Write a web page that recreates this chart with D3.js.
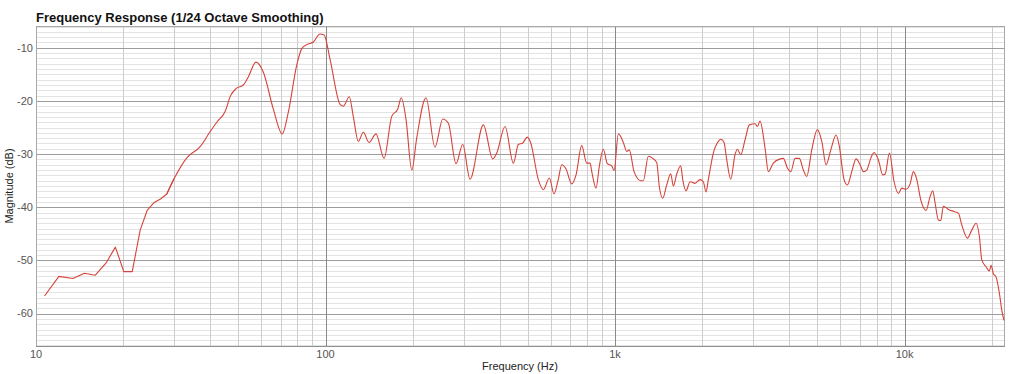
<!DOCTYPE html>
<meta charset="utf-8">
<style>
  body { margin: 0; background: #fff; }
  text { font-family: "Liberation Sans", Arial, Helvetica, sans-serif; }
</style>

<svg width="1021" height="374"></svg>

<script src="https://d3js.org/d3.v7.min.js"></script>
<script>

// frequency response (Hz / dB)
var freq = [10.7, 12.0, 13.4, 14.7, 16.0, 17.5, 18.8, 20.1, 21.5, 22.9, 24.2, 25.6, 27.0, 28.3, 30.0,
  33.3, 36.9, 39.8, 42.1, 45.0, 47.0, 49.3, 52.0, 54.1, 57.5, 61.0, 66.0, 70.9, 74.4, 79.5,
  82.7, 86.1, 90.8, 95.7, 98.9, 103.6, 112.4, 115.2, 120.8, 124.7, 129.8, 135.1, 141.3, 149.4, 159.3,
  169.3, 177.6, 182.7, 189.7, 198.6, 206.5, 222.4, 238.8, 254, 265.6, 282.3, 297.8, 315.6, 350.9, 378,
  390.3, 417, 445.5, 463.4, 479.9, 497.9, 511.5, 543.4, 565.4, 593.1, 615.5, 637, 654.5, 677.2, 708.6,
  733.3, 767, 798.5, 819.7, 830.9, 860, 882.5, 911, 940.5, 974, 992, 1027, 1068, 1098, 1120,
  1163, 1227, 1252, 1303, 1350, 1393, 1422, 1461, 1508, 1557, 1590, 1634, 1686, 1713, 1759,
  1816, 1889, 1966, 2018, 2062, 2100, 2185, 2274, 2318, 2380, 2431, 2510, 2597, 2645, 2718,
  2812, 2910, 3045, 3101, 3168, 3297, 3384, 3522, 3716, 3814, 3938, 4045, 4186, 4331, 4471,
  4594, 4780, 4998, 5176, 5357, 5561, 5800, 5954, 6180, 6345, 6571, 6800, 7020, 7207, 7403,
  7642, 7845, 8121, 8410, 8565, 8864, 9199, 9520, 9779, 10120, 10450, 10725, 11020, 11375, 11865,
  12250, 12515, 12748, 13087, 13335, 13614, 14166, 14825, 15340, 15760, 16480, 17066, 17660, 18130, 18480,
  19120, 19630, 19900, 20260, 20700, 21260, 21670, 22050]

var mag = [-56.7, -53.0, -53.4, -52.4, -52.8, -50.4, -47.5, -52.1, -52.1, -44.3, -40.6, -39.1, -38.4, -37.5, -34.6,
  -30.6, -28.6, -25.9, -24.0, -22.0, -19.0, -17.6, -17.0, -15.5, -12.7, -14.6, -21.5, -26.2, -22.1, -13.3,
  -10.2, -9.4, -8.9, -7.4, -7.6, -12.1, -20.7, -21.0, -19.2, -22.9, -27.6, -25.9, -27.8, -26.2, -30.8,
  -22.9, -21.5, -19.4, -23.5, -33.0, -27.0, -19.4, -28.7, -23.4, -24.2, -31.8, -28.2, -34.7, -24.5, -30.9,
  -29.8, -24.8, -31.7, -28.2, -27.9, -26.8, -27.9, -34.8, -36.7, -34.5, -37.5, -34.7, -32.0, -32.8, -35.6,
  -33.9, -28.4, -31.7, -31.7, -33.3, -36.4, -32.3, -29.1, -31.8, -32.2, -33.1, -26.2, -27.8, -29.5, -29.2,
  -33.3, -35.0, -35.0, -30.4, -30.8, -31.6, -36.1, -38.3, -35.8, -33.7, -36.0, -33.7, -32.2, -34.8, -36.9,
  -35.2, -35.5, -34.8, -35.2, -37.1, -34.8, -29.8, -27.6, -27.2, -27.8, -31.1, -34.7, -30.1, -29.1, -30.1,
  -27.3, -24.5, -24.3, -24.8, -23.8, -28.9, -33.3, -31.7, -30.9, -30.8, -32.6, -33.3, -30.8, -30.8, -33.0,
  -34.2, -29.2, -25.4, -27.6, -32.0, -29.2, -26.4, -28.6, -34.8, -35.8, -33.3, -30.9, -32.0, -33.3, -33.0,
  -30.8, -29.7, -31.1, -33.9, -33.8, -29.8, -35.2, -37.4, -36.4, -36.6, -35.6, -33.3, -34.8, -38.6, -40.6,
  -38.0, -36.9, -39.2, -42.4, -42.5, -39.8, -40.4, -40.8, -41.1, -43.3, -45.8, -44.3, -43.0, -45.5, -49.9,
  -51.2, -52.0, -50.9, -52.5, -53.1, -56.2, -59.4, -61.3]

var xTicks = [10, 100, 1000, 10000]
var xTickLabels = ["10", "100", "1k", "10k"]
var yTicks = [-60, -50, -40, -30, -20, -10]

var points = freq.map(function (f, i) { return [f, mag[i]] })
// below ~30 Hz the trace is drawn with straight segments
var lowPart = points.filter(function (d) { return d[0] <= 30 })
var highPart = points.filter(function (d) { return d[0] >= 28.3 })

var pL = 36, pR = 1004, pT = 26, pB = 346

var x = d3.scaleLog().domain([10, 22050]).range([pL, pR])
var y = d3.scaleLinear().domain([-66.1, -5.9]).range([pB, pT])

var svg = d3.select('svg')

// minor grid: every dB, and 2..9 inside each decade
var minorY = d3.range(-66, -5)
var minorX = []
xTicks.forEach(function (d) {
  for (var k = 2; k <= 9; k++) {
    if (d * k < 22050) minorX.push(d * k)
  }
})

function px(v) { return Math.round(v) + 0.5 }

var grid = svg.append('g').attr('shape-rendering', 'crispEdges')

grid.selectAll('line.hmin')
  .data(minorY)
  .enter().append('line')
    .attr('x1', pL).attr('x2', pR)
    .attr('y1', function (d) { return px(y(d)) })
    .attr('y2', function (d) { return px(y(d)) })
    .attr('stroke', '#e3e3e3')

grid.selectAll('line.vmin')
  .data(minorX)
  .enter().append('line')
    .attr('y1', pT).attr('y2', pB)
    .attr('x1', function (d) { return px(x(d)) })
    .attr('x2', function (d) { return px(x(d)) })
    .attr('stroke', '#cdcdcd')

grid.selectAll('line.hmaj')
  .data(yTicks)
  .enter().append('line')
    .attr('x1', pL).attr('x2', pR)
    .attr('y1', function (d) { return px(y(d)) })
    .attr('y2', function (d) { return px(y(d)) })
    .attr('stroke', '#9c9c9c')

grid.selectAll('line.vmaj')
  .data(xTicks.slice(1))
  .enter().append('line')
    .attr('y1', pT).attr('y2', pB)
    .attr('x1', function (d) { return px(x(d)) })
    .attr('x2', function (d) { return px(x(d)) })
    .attr('stroke', '#8a8a8a')

// frame
grid.append('rect')
  .attr('x', pL + 0.5).attr('y', pT + 0.5)
  .attr('width', pR - pL).attr('height', pB - pT)
  .attr('fill', 'none')
  .attr('stroke', '#a8a8a8')

grid.append('line')
  .attr('x1', pL).attr('x2', pR + 1)
  .attr('y1', pB + 0.5).attr('y2', pB + 0.5)
  .attr('stroke', '#8f8f8f')
  .attr('stroke-width', 1.5)

// the curve
var lineLow = d3.line()
  .x(function (d) { return x(d[0]) })
  .y(function (d) { return y(d[1]) })

var lineHigh = d3.line()
  .x(function (d) { return x(d[0]) })
  .y(function (d) { return y(d[1]) })
  .curve(d3.curveMonotoneX)

svg.append('path')
  .datum(lowPart)
  .attr('d', lineLow)
  .attr('fill', 'none')
  .attr('stroke', '#d5433a')
  .attr('stroke-width', 1.1)
  .attr('stroke-linejoin', 'round')

svg.append('path')
  .datum(highPart)
  .attr('d', lineHigh)
  .attr('fill', 'none')
  .attr('stroke', '#d5433a')
  .attr('stroke-width', 1.1)

// tick labels
svg.append('g').selectAll('text')
  .data(xTicks)
  .enter().append('text')
    .attr('x', function (d) { return x(d) })
    .attr('y', 358)
    .attr('text-anchor', 'middle')
    .attr('font-size', 11)
    .attr('fill', '#555')
    .text(function (d, i) { return xTickLabels[i] })

svg.append('g').selectAll('text')
  .data(yTicks)
  .enter().append('text')
    .attr('x', 33)
    .attr('y', function (d) { return y(d) })
    .attr('dy', '0.35em')
    .attr('text-anchor', 'end')
    .attr('font-size', 11)
    .attr('fill', '#555')
    .text(function (d) { return d })

// titles
svg.append('text')
  .attr('x', pL)
  .attr('y', 22)
  .attr('font-size', 13)
  .attr('font-weight', 'bold')
  .attr('fill', '#111')
  .text('Frequency Response (1/24 Octave Smoothing)')

svg.append('text')
  .attr('x', (pL + pR) / 2)
  .attr('y', 370)
  .attr('text-anchor', 'middle')
  .attr('font-size', 11)
  .attr('fill', '#222')
  .text('Frequency (Hz)')

svg.append('text')
  .attr('transform', 'translate(13,' + ((pT + pB) / 2) + ') rotate(-90)')
  .attr('text-anchor', 'middle')
  .attr('font-size', 11)
  .attr('fill', '#222')
  .text('Magnitude (dB)')
</script>
